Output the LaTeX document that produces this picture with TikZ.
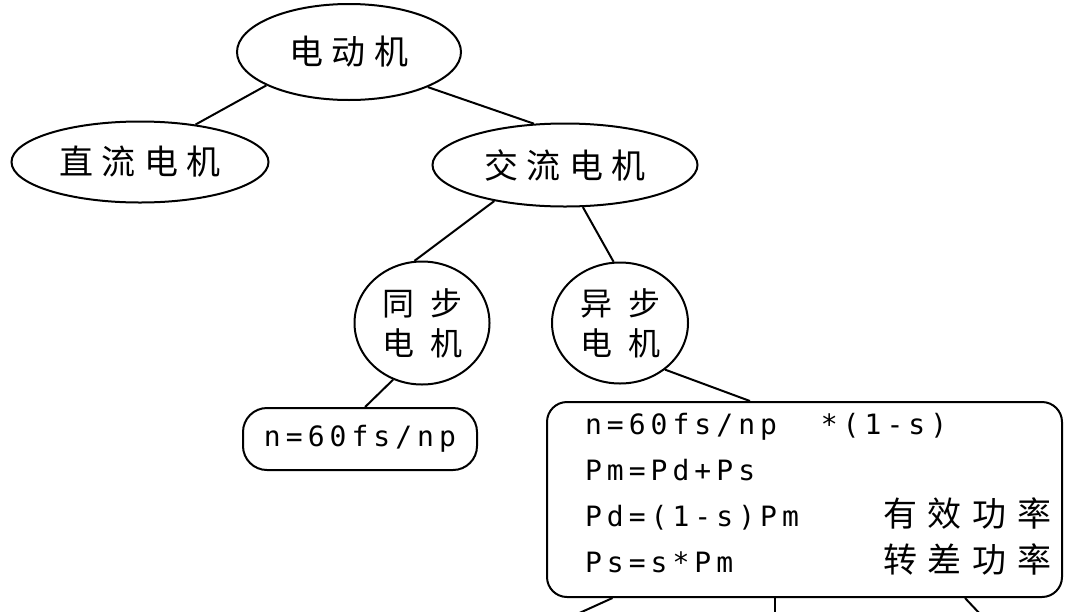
\documentclass[tikz,border=0pt]{standalone}
\usepackage{fontspec}
\setmonofont{DejaVu Sans Mono}[LetterSpace=18]
\newfontfamily\cjk{Noto Sans CJK SC}[LetterSpace=24]
\newfontfamily\cjkwide{Noto Sans CJK SC}[LetterSpace=50]
\newfontfamily\cjkrow{Noto Sans CJK SC}[LetterSpace=32]
\usetikzlibrary{shapes.geometric,positioning}

\begin{document}
\begin{tikzpicture}[x=1pt, y=-1pt, line width=2pt,
  kind/.style={ellipse, draw, inner sep=0pt, font=\cjk\fontsize{34}{40}\selectfont},
  sort/.style={ellipse, draw, inner sep=0pt, align=center, font=\cjkwide\fontsize{32}{40}\selectfont},
  speedbox/.style={draw, rounded corners=24pt, inner sep=0pt, font=\ttfamily\fontsize{28}{34}\selectfont}]
\clip (0,0) rectangle (1067,611);

% motor types
\node[kind, minimum width=224pt, minimum height=96pt] (motor) at (349,52) {电动机};
\node[kind, minimum width=257pt, minimum height=81pt] (dc) at (140,162) {直流电机};
\node[kind, minimum width=265pt, minimum height=83pt] (ac) at (565,165) {交流电机};
\node[sort, minimum width=135pt, minimum height=123pt] (sync) at (422,323) {同步\\电机};
\node[sort, minimum width=136pt, minimum height=121pt] (async) at (620,323) {异步\\电机};

% formulas
\node[speedbox, minimum width=234pt, minimum height=62pt] (syncn) at (360,439) {n=60fs/np};
\node[speedbox, rounded corners=20pt, minimum width=515pt, minimum height=195pt] (asyncbox) at (804.5,499.5) {};
\node[anchor=north west, inner sep=0pt, font=\ttfamily\fontsize{28}{46}\selectfont] (asynctext)
  at ([xshift=38pt]asyncbox.north west) {\begin{tabular}{@{}l@{}l@{}}
\rlap{n=60fs/np\ \ *(1-s)} & \\
\makebox[298pt][l]{Pm=Pd+Ps} & \\
Pd=(1-s)Pm & {\cjkrow\fontsize{34}{46}\selectfont 有效功率}\\
Ps=s*Pm & {\cjkrow\fontsize{34}{46}\selectfont 转差功率}
\end{tabular}};

\draw (motor.-158) -- (dc.34);
\draw (motor.-24) -- (ac.127);
\draw (ac.-153) -- (sync.97);
\draw (ac.-67) -- (async.96);
\draw (sync.-117) -- (syncn.81);
\draw (async.-46) -- (asyncbox.119);

% branches running off the page
\coordinate (leadL) at (575,615);
\coordinate (leadM) at (775,615);
\coordinate (leadR) at (981,615);
\draw ([xshift=-192pt]asyncbox.south) -- (leadL);
\draw ([xshift=-29.5pt]asyncbox.south) -- (leadM);
\draw ([xshift=160.5pt]asyncbox.south) -- (leadR);
\end{tikzpicture}
\end{document}
